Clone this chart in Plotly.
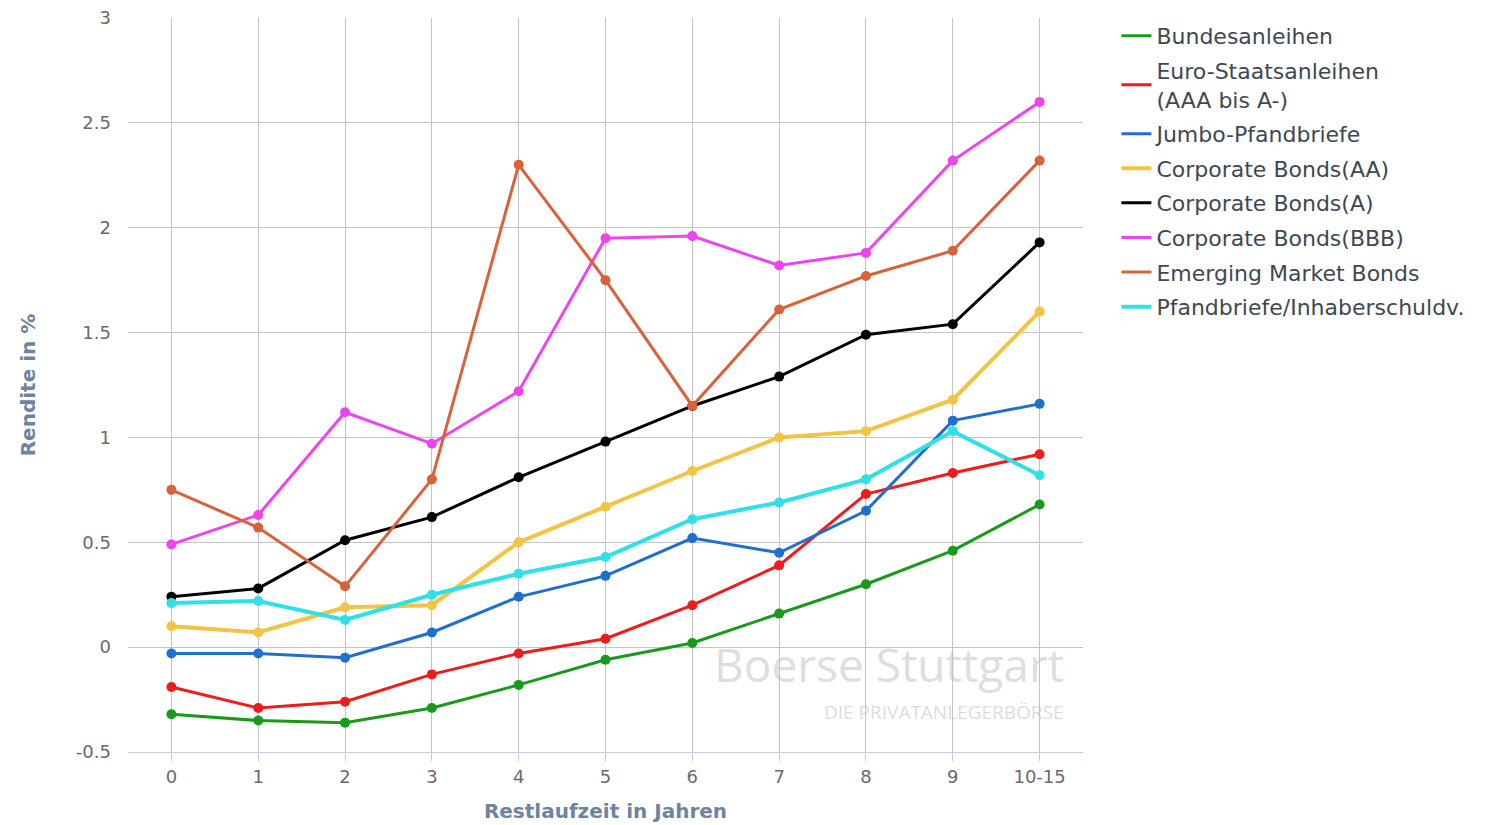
import plotly.graph_objects as go

categories = ["0", "1", "2", "3", "4", "5", "6", "7", "8", "9", "10-15"]

bundesanleihen = [-0.32, -0.35, -0.36, -0.29, -0.18, -0.06, 0.02, 0.16, 0.30, 0.46, 0.68]
euro_staatsanleihen = [-0.19, -0.29, -0.26, -0.13, -0.03, 0.04, 0.20, 0.39, 0.73, 0.83, 0.92]
jumbo_pfandbriefe = [-0.03, -0.03, -0.05, 0.07, 0.24, 0.34, 0.52, 0.45, 0.65, 1.08, 1.16]
corporate_aa = [0.10, 0.07, 0.19, 0.20, 0.50, 0.67, 0.84, 1.00, 1.03, 1.18, 1.60]
corporate_a = [0.24, 0.28, 0.51, 0.62, 0.81, 0.98, 1.15, 1.29, 1.49, 1.54, 1.93]
corporate_bbb = [0.49, 0.63, 1.12, 0.97, 1.22, 1.95, 1.96, 1.82, 1.88, 2.32, 2.60]
emerging_market = [0.75, 0.57, 0.29, 0.80, 2.30, 1.75, 1.15, 1.61, 1.77, 1.89, 2.32]
pfandbriefe_inhaber = [0.21, 0.22, 0.13, 0.25, 0.35, 0.43, 0.61, 0.69, 0.80, 1.03, 0.82]

series_names = [
    "Bundesanleihen",
    "Euro-Staatsanleihen<br>(AAA bis A-)",
    "Jumbo-Pfandbriefe",
    "Corporate Bonds(AA)",
    "Corporate Bonds(A)",
    "Corporate Bonds(BBB)",
    "Emerging Market Bonds",
    "Pfandbriefe/Inhaberschuldv.",
]
series_values = [
    bundesanleihen, euro_staatsanleihen, jumbo_pfandbriefe, corporate_aa,
    corporate_a, corporate_bbb, emerging_market, pfandbriefe_inhaber,
]
series_colors = ["#1a9a1a", "#ee1c1c", "#1f6fd1", "#f3c444", "#000000",
                 "#ee44ee", "#d9623b", "#2fe0e8"]
line_widths = [3, 3, 3, 4, 3, 3, 3, 4]

y_ticks = [-0.5, 0, 0.5, 1, 1.5, 2, 2.5, 3]
y_ticktext = ["-0.5", "0", "0.5", "1", "1.5", "2", "2.5", "3"]

fig = go.Figure()
for i, (name, vals, col, lw) in enumerate(zip(series_names, series_values, series_colors, line_widths)):
    grp = f"g{i}"
    fig.add_trace(go.Scatter(
        x=categories, y=vals, name=name, mode="lines", legendgroup=grp,
        line=dict(color=col, width=lw),
    ))
    fig.add_trace(go.Scatter(
        x=categories, y=vals, name=name, mode="markers", legendgroup=grp,
        marker=dict(color=col, size=10), showlegend=False,
    ))

font_fam = "DejaVu Sans, Verdana, sans-serif"
fig.update_layout(
    width=1508, height=825,
    margin=dict(l=128, r=425, t=18, b=73),
    paper_bgcolor="white", plot_bgcolor="white",
    font=dict(family=font_fam, color="#666666"),
    showlegend=True,
    legend=dict(
        x=1.035, y=1.004, xanchor="left", yanchor="top",
        font=dict(size=22, color="#3e4852", family=font_fam),
        tracegroupgap=3, itemwidth=30,
        bgcolor="rgba(0,0,0,0)",
    ),
    xaxis=dict(
        type="category", range=[-0.5, 10.5], automargin=False,
        showgrid=True, gridcolor="#c4c4c4", gridwidth=1,
        showline=True, linecolor="#c0d0e0", linewidth=1,
        ticks="outside", ticklen=8, tickcolor="#c0d0e0",
        tickfont=dict(size=18, color="#6a6a6a"),
        title=dict(text="<b>Restlaufzeit in Jahren</b>", font=dict(size=20, color="#6c84a0"), standoff=18),
        zeroline=False,
    ),
    yaxis=dict(
        range=[-0.5, 3], tickvals=y_ticks, ticktext=y_ticktext, automargin=False,
        showgrid=True, gridcolor="#c4c4c4", gridwidth=1,
        showline=False, zeroline=False,
        tickfont=dict(size=18, color="#6a6a6a"),
        ticklabelstandoff=16,
        title=dict(text="<b>Rendite in %</b>", font=dict(size=20, color="#6c84a0"), standoff=34),
    ),
)

fig.add_annotation(
    xref="paper", yref="paper", x=(1066 - 128) / 955, y=(752 - 664) / 734,
    xanchor="right", yanchor="middle", text="Boerse Stuttgart", showarrow=False,
    font=dict(size=46, color="rgba(185,190,200,0.5)", family="Open Sans, sans-serif"),
)
fig.add_annotation(
    xref="paper", yref="paper", x=(1066 - 128) / 955, y=(752 - 712) / 734,
    xanchor="right", yanchor="middle", text="DIE PRIVATANLEGERBÖRSE", showarrow=False,
    font=dict(size=19, color="rgba(185,190,200,0.55)", family="Open Sans, sans-serif"),
)

fig.write_html("out.html")
